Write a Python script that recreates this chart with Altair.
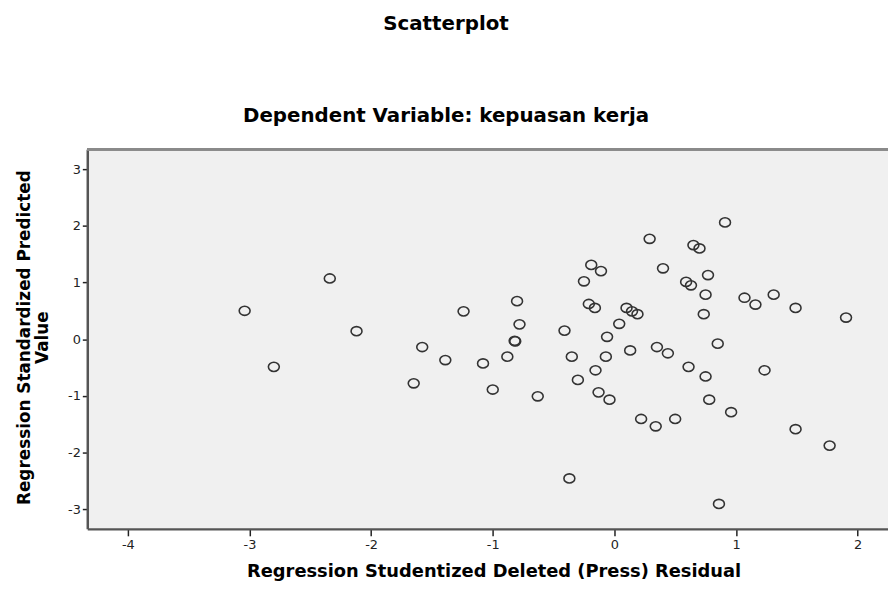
import altair as alt
import pandas as pd

# Regression Studentized Deleted (Press) Residual
resid = [-3.04, -2.80, -2.34, -2.12, -1.65, -1.58, -1.39, -1.24, -1.08, -1.00,
         -0.88, -0.82, -0.815, -0.80, -0.78, -0.63, -0.41, -0.37, -0.35, -0.30,
         -0.25, -0.21, -0.19, -0.16, -0.155, -0.13, -0.11, -0.06, -0.07, -0.04,
         0.04, 0.10, 0.145, 0.19, 0.13, 0.22, 0.29, 0.35, 0.34, 0.40,
         0.44, 0.50, 0.59, 0.63, 0.61, 0.65, 0.70, 0.735, 0.75, 0.75,
         0.77, 0.78, 0.85, 0.86, 0.91, 0.96, 1.07, 1.16, 1.235, 1.31,
         1.49, 1.49, 1.77, 1.905]
# Regression Standardized Predicted Value
pred = [0.50, -0.49, 1.07, 0.14, -0.78, -0.14, -0.37, 0.49, -0.43, -0.89,
        -0.31, -0.03, -0.04, 0.67, 0.26, -1.01, 0.15, -2.46, -0.31, -0.72,
        1.02, 0.62, 1.31, 0.55, -0.55, -0.94, 1.20, 0.04, -0.31, -1.07,
        0.27, 0.55, 0.49, 0.44, -0.20, -1.41, 1.77, -0.14, -1.54, 1.25,
        -0.25, -1.41, 1.01, 0.95, -0.49, 1.66, 1.60, 0.44, -0.66, 0.785,
        1.13, -1.07, -0.08, -2.91, 2.06, -1.29, 0.73, 0.61, -0.55, 0.785,
        0.55, -1.59, -1.88, 0.38]

x_ticks = [-4, -3, -2, -1, 0, 1, 2]
y_ticks = [-3, -2, -1, 0, 1, 2, 3]
x_domain = [-4.334, 2.25]
y_domain = [-3.35, 3.35]

df = pd.DataFrame({"resid": resid, "pred": pred})

FONT = "DejaVu Sans"
W, H = 808, 383

ellipse = "M -1 0 A 1 0.84 0 1 1 1 0 A 1 0.84 0 1 1 -1 0 Z"

points = alt.Chart(df).mark_point(
    shape=ellipse, filled=False, size=121, stroke="#333333", strokeWidth=1.6, opacity=1
).encode(
    x=alt.X("resid:Q",
            scale=alt.Scale(domain=x_domain, nice=False, zero=False),
            axis=alt.Axis(values=x_ticks, labelExpr="'' + datum.value", grid=False,
                          title="Regression Studentized Deleted (Press) Residual",
                          titleX=410, titleY=48, titleAlign="center",
                          titleBaseline="alphabetic", titleFontSize=18,
                          tickSize=7, labelPadding=3)),
    y=alt.Y("pred:Q",
            scale=alt.Scale(domain=y_domain, nice=False, zero=False),
            axis=alt.Axis(values=y_ticks, labelExpr="'' + datum.value", grid=False,
                          title=["Regression Standardized Predicted", "Value"],
                          titleAngle=270, titleX=-71, titleY=H / 2 - 2,
                          titleAlign="center", titleBaseline="top",
                          titleFontSize=17, titleLineHeight=17.5,
                          tickSize=5, labelPadding=2)),
)

top_border = alt.Chart(df).mark_rule(color="#8a8a8a", strokeWidth=2).encode(
    x=alt.value(0), x2=alt.value(W), y=alt.value(0)
)

chart = alt.layer(top_border, points).properties(
    width=W, height=H,
    autosize=alt.AutoSizeParams(type="none"),
    padding={"left": 80, "top": 140, "right": 0, "bottom": 51},
    title=alt.TitleParams(
        text="Scatterplot",
        subtitle="Dependent Variable: kepuasan kerja",
        anchor="middle", frame="group", dx=-42,
        font=FONT, fontSize=20, fontWeight="bold", color="#000000",
        subtitleFont=FONT, subtitleFontSize=20, subtitleFontWeight="bold",
        subtitleColor="#000000", subtitlePadding=72, offset=23,
    ),
).configure_view(
    fill="#f0f0f0", stroke=None
).configure_axis(
    domainColor="#555555", domainWidth=2.5,
    tickColor="#222222", tickWidth=1.5,
    labelFont=FONT, labelFontSize=13, labelColor="#222222",
    titleFont=FONT, titleFontWeight="bold", titleColor="#000000",
)

chart.save("out.html", embed_options={"renderer": "svg", "actions": False})
